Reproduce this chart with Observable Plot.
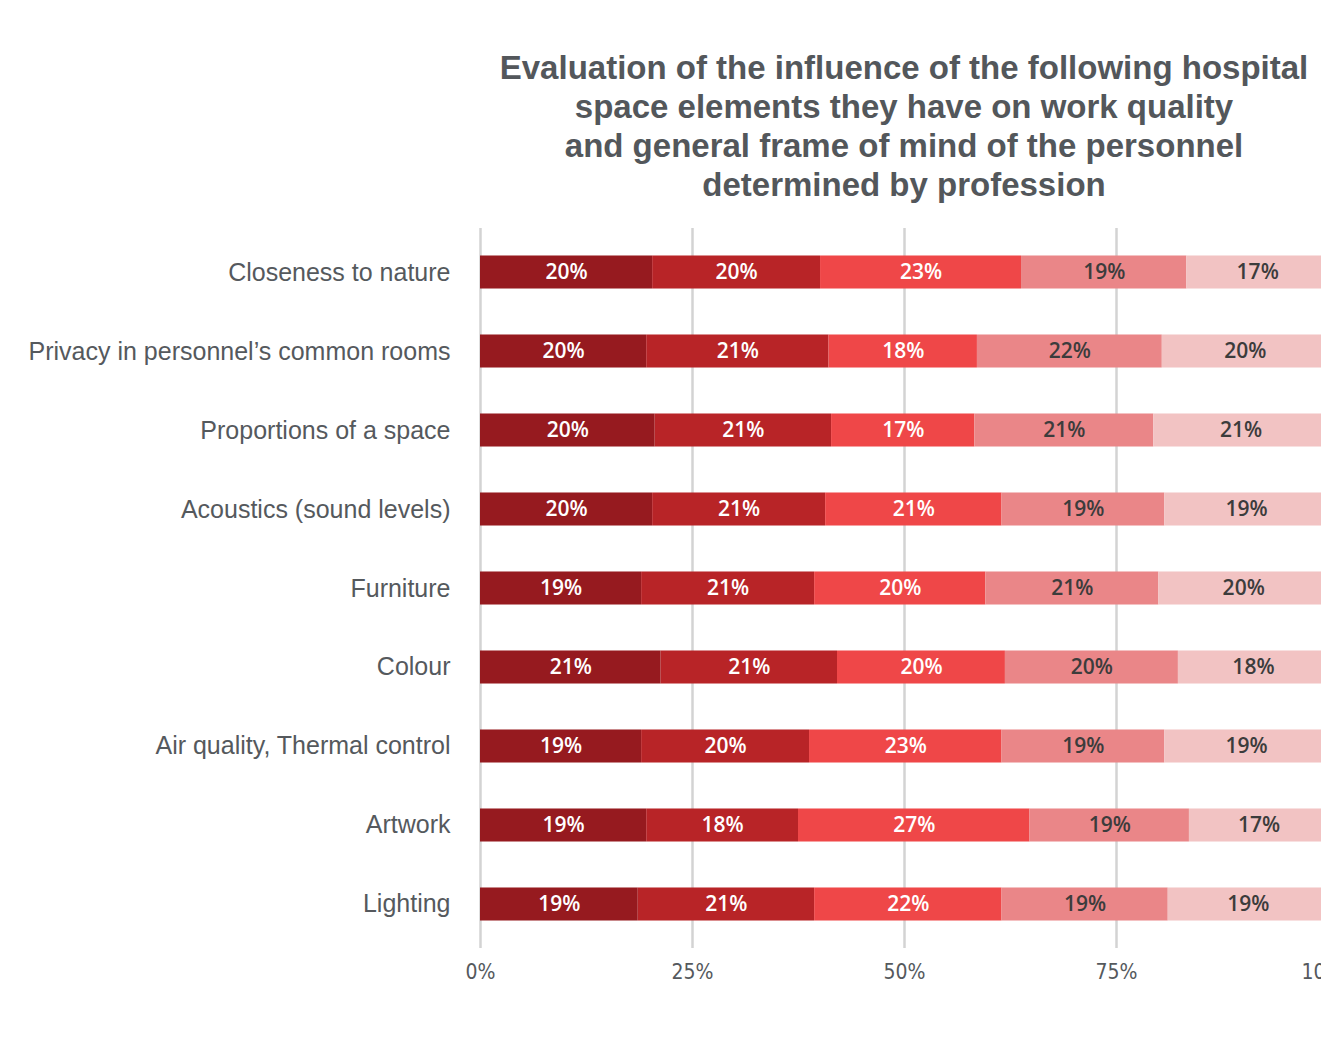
<!DOCTYPE html>
<html>
<head>
<meta charset="utf-8">
<script src="https://cdn.jsdelivr.net/npm/d3@7"></script>
<script src="https://cdn.jsdelivr.net/npm/@observablehq/plot@0.6"></script>
<style>
  html, body { margin: 0; padding: 0; background: #fff; overflow: hidden; width: 1321px; height: 1037px; }
  #title {
    box-sizing: border-box;
    height: 215px;
    margin-left: 480px;
    width: 848px;
    padding-top: 48px;
    text-align: center;
    font-family: "Liberation Sans", Arial, sans-serif;
    font-weight: bold;
    font-size: 33px;
    line-height: 39px;
    color: #53575b;
    white-space: nowrap;
  }
  #chart svg { display: block; overflow: visible; max-width: none !important; }
</style>
</head>
<body>
<div id="title">Evaluation of the influence of the following hospital<br>space elements they have on work quality<br>and general frame of mind of the personnel<br>determined by profession</div>
<div id="chart"></div>
<script>
// Categories (top to bottom)
const categories = [
  "Closeness to nature",
  "Privacy in personnel\u2019s common rooms",
  "Proportions of a space",
  "Acoustics (sound levels)",
  "Furniture",
  "Colour",
  "Air quality, Thermal control",
  "Artwork",
  "Lighting"
];

// Segment shares (percent of bar length), one array per segment
const seg1 = [20.3, 19.6, 20.6, 20.3, 19.0, 21.3, 19.0, 19.6, 18.6];
const seg2 = [19.8, 21.5, 20.8, 20.4, 20.4, 20.8, 19.8, 17.9, 20.8];
const seg3 = [23.7, 17.5, 16.9, 20.8, 20.2, 19.8, 22.7, 27.3, 22.1];
const seg4 = [19.5, 21.8, 21.1, 19.2, 20.4, 20.4, 19.2, 18.8, 19.6];
const seg5 = [16.7, 19.6, 20.6, 19.3, 20.0, 17.7, 19.3, 16.4, 18.9];

// Printed labels in each segment
const lab1 = [20, 20, 20, 20, 19, 21, 19, 19, 19];
const lab2 = [20, 21, 21, 21, 21, 21, 20, 18, 21];
const lab3 = [23, 18, 17, 21, 20, 20, 23, 27, 22];
const lab4 = [19, 22, 21, 19, 21, 20, 19, 19, 19];
const lab5 = [17, 20, 21, 19, 20, 18, 19, 17, 19];

const segmentNames = ["s1", "s2", "s3", "s4", "s5"];
const segmentColors = ["#961a1f", "#b82427", "#ef4748", "#ea8688", "#f2c3c3"];
const xTicks = [0, 25, 50, 75, 100];

const segs = [seg1, seg2, seg3, seg4, seg5];
const labs = [lab1, lab2, lab3, lab4, lab5];

const data = [];
segs.forEach((arr, si) => {
  arr.forEach((v, ci) => {
    data.push({cat: categories[ci], seg: segmentNames[si], si, value: v, label: labs[si][ci] + "%"});
  });
});

const labelStyle = {fontFamily: "'Open Sans', sans-serif", fontWeight: 600, fontSize: 21};

const chart = Plot.plot({
  width: 1340,
  height: 822,
  marginLeft: 480,
  marginRight: 12,
  marginTop: 13,
  marginBottom: 89,
  style: {fontFamily: "'Liberation Sans', Arial, sans-serif", background: "#fff", maxWidth: "none"},
  x: {domain: [0, 100], ticks: xTicks, tickFormat: d => d + "%", label: null, tickSize: 0, tickPadding: 16},
  y: {domain: categories, label: null, tickSize: 0, tickPadding: 30, paddingInner: 0.582, paddingOuter: 0.348, round: false},
  color: {domain: segmentNames, range: segmentColors},
  marks: [
    Plot.ruleX(xTicks, {stroke: "#d3d3d3", strokeWidth: 2.5}),
    Plot.barX(data, Plot.stackX({x: "value", y: "cat", fill: "seg", order: null})),
    Plot.text(data, Plot.stackX({x: "value", y: "cat", order: null, text: d => d.si < 3 ? d.label : null, fill: "#ffffff", ...labelStyle})),
    Plot.text(data, Plot.stackX({x: "value", y: "cat", order: null, text: d => d.si >= 3 ? d.label : null, fill: "#3c3c3c", ...labelStyle}))
  ]
});

document.getElementById("chart").appendChild(chart);

// style axis text
d3.select(chart).selectAll("g[aria-label='y-axis tick label']")
  .attr("font-size", 25).attr("fill", "#55595d");
d3.select(chart).selectAll("g[aria-label='x-axis tick label']")
  .attr("font-size", 21).attr("fill", "#55595d")
  .attr("font-family", "'Liberation Sans Narrow', 'DejaVu Sans Condensed', sans-serif");
</script>
</body>
</html>
